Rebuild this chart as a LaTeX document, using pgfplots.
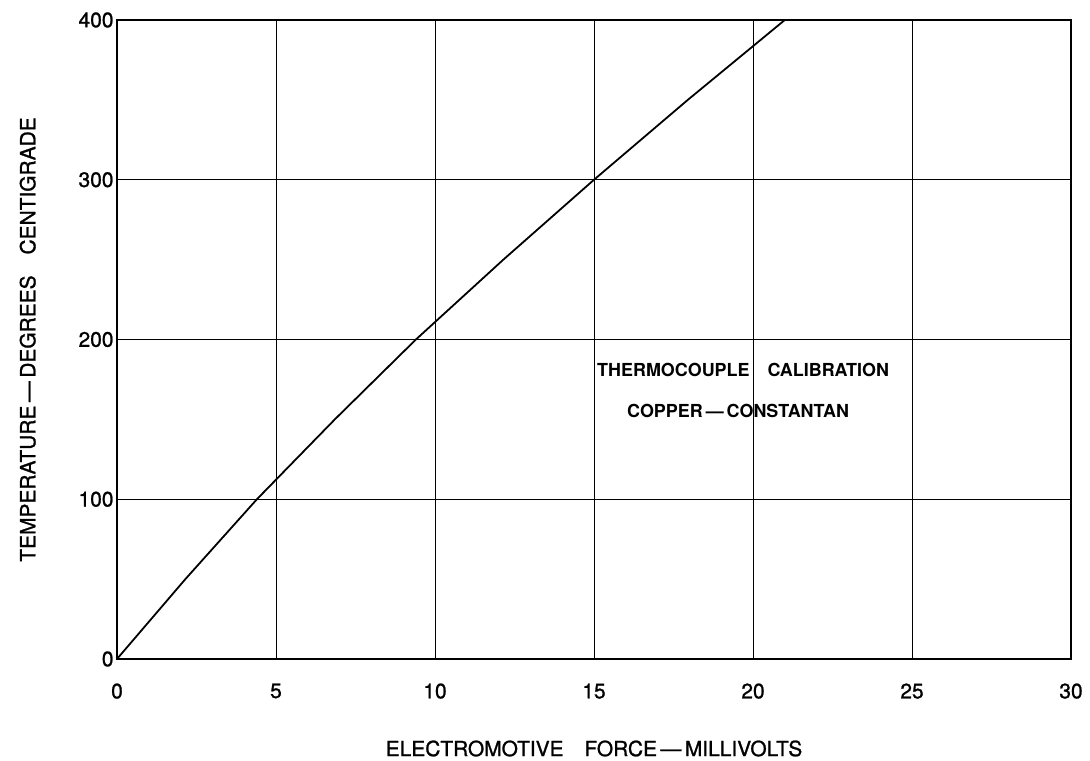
\documentclass[border=0pt]{standalone}
\usepackage{pgfplots}
\pgfplotsset{compat=1.18}
\usepackage{fontspec}
\setmainfont{TeX Gyre Heros}
\newfontfamily\heavyfamily[Ligatures=TeX, FakeBold=1.1]{TeX Gyre Heros}

% Copper-constantan calibration: EMF (mV) against temperature (deg C)
\pgfplotstableread{
mv     degc
0.00   0
2.15   50
4.40   100
6.85   150
9.40   200
12.15  250
15.00  300
17.95  350
21.00  400
}\calib

\newcommand\lblfont{\heavyfamily\fontsize{21}{25}\selectfont}
\newcommand\notefont{\fontsize{18}{21}\selectfont\bfseries}

\begin{document}
\begin{tikzpicture}[x=1bp,y=1bp]
\path (0,0) rectangle (1090,761);
\begin{axis}[
  at={(117bp,102bp)}, anchor=south west,
  scale only axis,
  width=954bp, height=639bp,
  xmin=0, xmax=30, ymin=0, ymax=400,
  xtick={0,5,...,30}, ytick={0,100,...,400},
  grid=major,
  major grid style={black, line width=0.8pt},
  axis line style={draw=none},
  tick style={draw=none},
  /pgf/number format/assume math mode=true,
  tick label style={font=\lblfont},
  label style={font=\lblfont},
  xticklabel style={yshift=-21bp},
  yticklabel style={xshift=0bp},
  xlabel={ELECTROMOTIVE\quad FORCE\,\textemdash\,MILLIVOLTS},
  ylabel={TEMPERATURE\,\textemdash\,DEGREES\quad CENTIGRADE},
  xlabel style={yshift=-35bp},
  ylabel style={yshift=36bp},
  clip=false,
]
\addplot[black, line width=1.8pt] table[x=mv, y=degc] {\calib};
\draw[black, line width=2.8pt] (rel axis cs:0,0) rectangle (rel axis cs:1,1);
\node[font=\notefont] at (axis cs:19.69,181) {THERMOCOUPLE\quad CALIBRATION};
\node[font=\notefont] at (axis cs:19.53,155) {COPPER\,\textemdash\,CONSTANTAN};
\end{axis}
\end{tikzpicture}
\end{document}
